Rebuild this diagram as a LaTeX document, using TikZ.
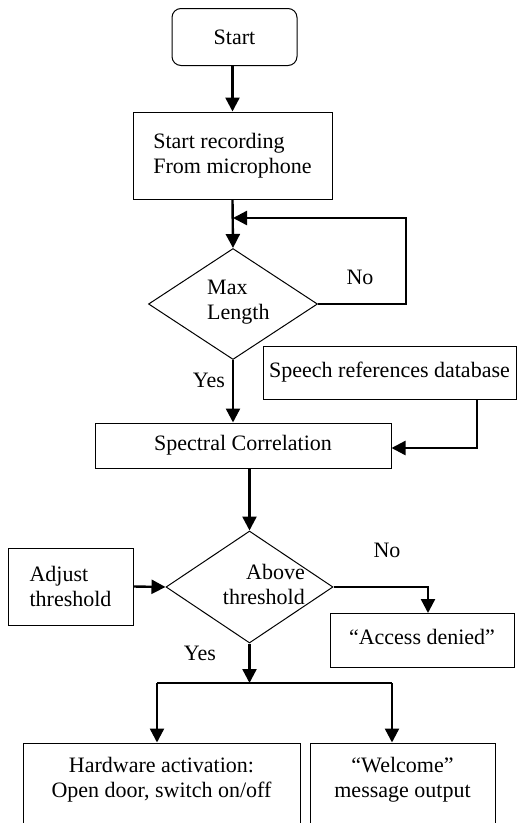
\documentclass[tikz,border=0pt]{standalone}
\usepackage{fontspec}
\setmainfont{Liberation Serif}
\usetikzlibrary{shapes.geometric,arrows.meta}
\begin{document}
\begin{tikzpicture}[x=1pt,y=-1pt,
  font=\fontsize{22}{25}\selectfont,
  box/.style={draw,line width=1pt,rectangle,inner sep=0pt,align=center},
  dia/.style={draw,line width=1pt,diamond,inner sep=0pt},
  txt/.style={inner sep=0pt,align=left},
  flow/.style={line width=2.4pt,-{Triangle[length=14pt,width=14pt]}},
  line/.style={line width=2.4pt}]
\clip (0,0) rectangle (517,823);
\fill[white] (0,0) rectangle (517,823);
% nodes
\node[box,rounded corners=9pt,minimum width=125pt,minimum height=57pt] (start) at (234.5,37) {Start};
\node[box,align=left,minimum width=199pt,minimum height=87pt] (rec) at (232.5,155.5) {Start recording\\From microphone};
\node[dia,minimum width=169pt,minimum height=111pt] (maxl) at (233,304) {};
\node[txt,anchor=west] (maxlt) at (207,302) {Max\\Length};
\node[box,minimum width=253pt,minimum height=53pt] (db) at (389.5,372.5) {Speech references database};
\node[box,minimum width=296pt,minimum height=45pt] (spec) at (243,445.5) {Spectral Correlation};
\node[dia,minimum width=167pt,minimum height=112pt] (above) at (249.5,587) {};
\node[txt,anchor=east,align=right] (abovet) at (305,584) {Above\\threshold};
\node[box,align=left,minimum width=125pt,minimum height=77pt] (adj) at (70.5,586.5) {Adjust\\threshold};
\node[box,minimum width=184pt,minimum height=54pt,text depth=6pt] (deny) at (422,640) {``Access denied''};
\node[box,minimum width=277pt,minimum height=100pt] (hw) at (161.5,793) {};
\node[txt,align=center] (hwt) at (161.5,780) {Hardware activation:\\Open door, switch on/off};
\node[box,minimum width=185pt,minimum height=100pt] (wel) at (402.5,793) {};
\node[txt,align=center] (welt) at (402.5,780) {``Welcome''\\message output};
% labels
\node[txt] (no1) at (360,277) {No};
\node[txt] (yes1) at (209,380) {Yes};
\node[txt] (no2) at (387,550) {No};
\node[txt] (yes2) at (200,653) {Yes};
% coordinates
\coordinate (loopin) at (233,218);
\coordinate (loopc) at (406,304);
\coordinate (dbout) at (477,399);
\coordinate (dbin) at (477,448);
\coordinate (denyc) at (428,587);
\coordinate (denyin) at (428,613);
\coordinate (jn) at (251,683);
\coordinate (jl) at (157,683);
\coordinate (jr) at (392,683);
% connectors
\draw[flow] (start.south -| rec.north) -- (rec.north);
\draw[flow] (rec.south) -- (maxl.north);
\draw[flow] (maxl.east) -- (loopc) |- (loopin);
\draw[flow] (maxl.south) -- (maxl.south |- spec.north);
\draw[flow] (dbout) -- (dbin) -- (spec.east |- dbin);
\draw[flow] (above.north |- spec.south) -- (above.north);
\draw[flow] (adj.east) -- (above.west);
\draw[flow] (above.east) -- (denyc) -- (denyin);
\draw[flow] (above.south) -- (above.south |- jn);
\draw[line] (jl) -- (jr);
\draw[flow] (jl) -- (jl |- hw.north);
\draw[flow] (jr) -- (jr |- wel.north);
\end{tikzpicture}
\end{document}
